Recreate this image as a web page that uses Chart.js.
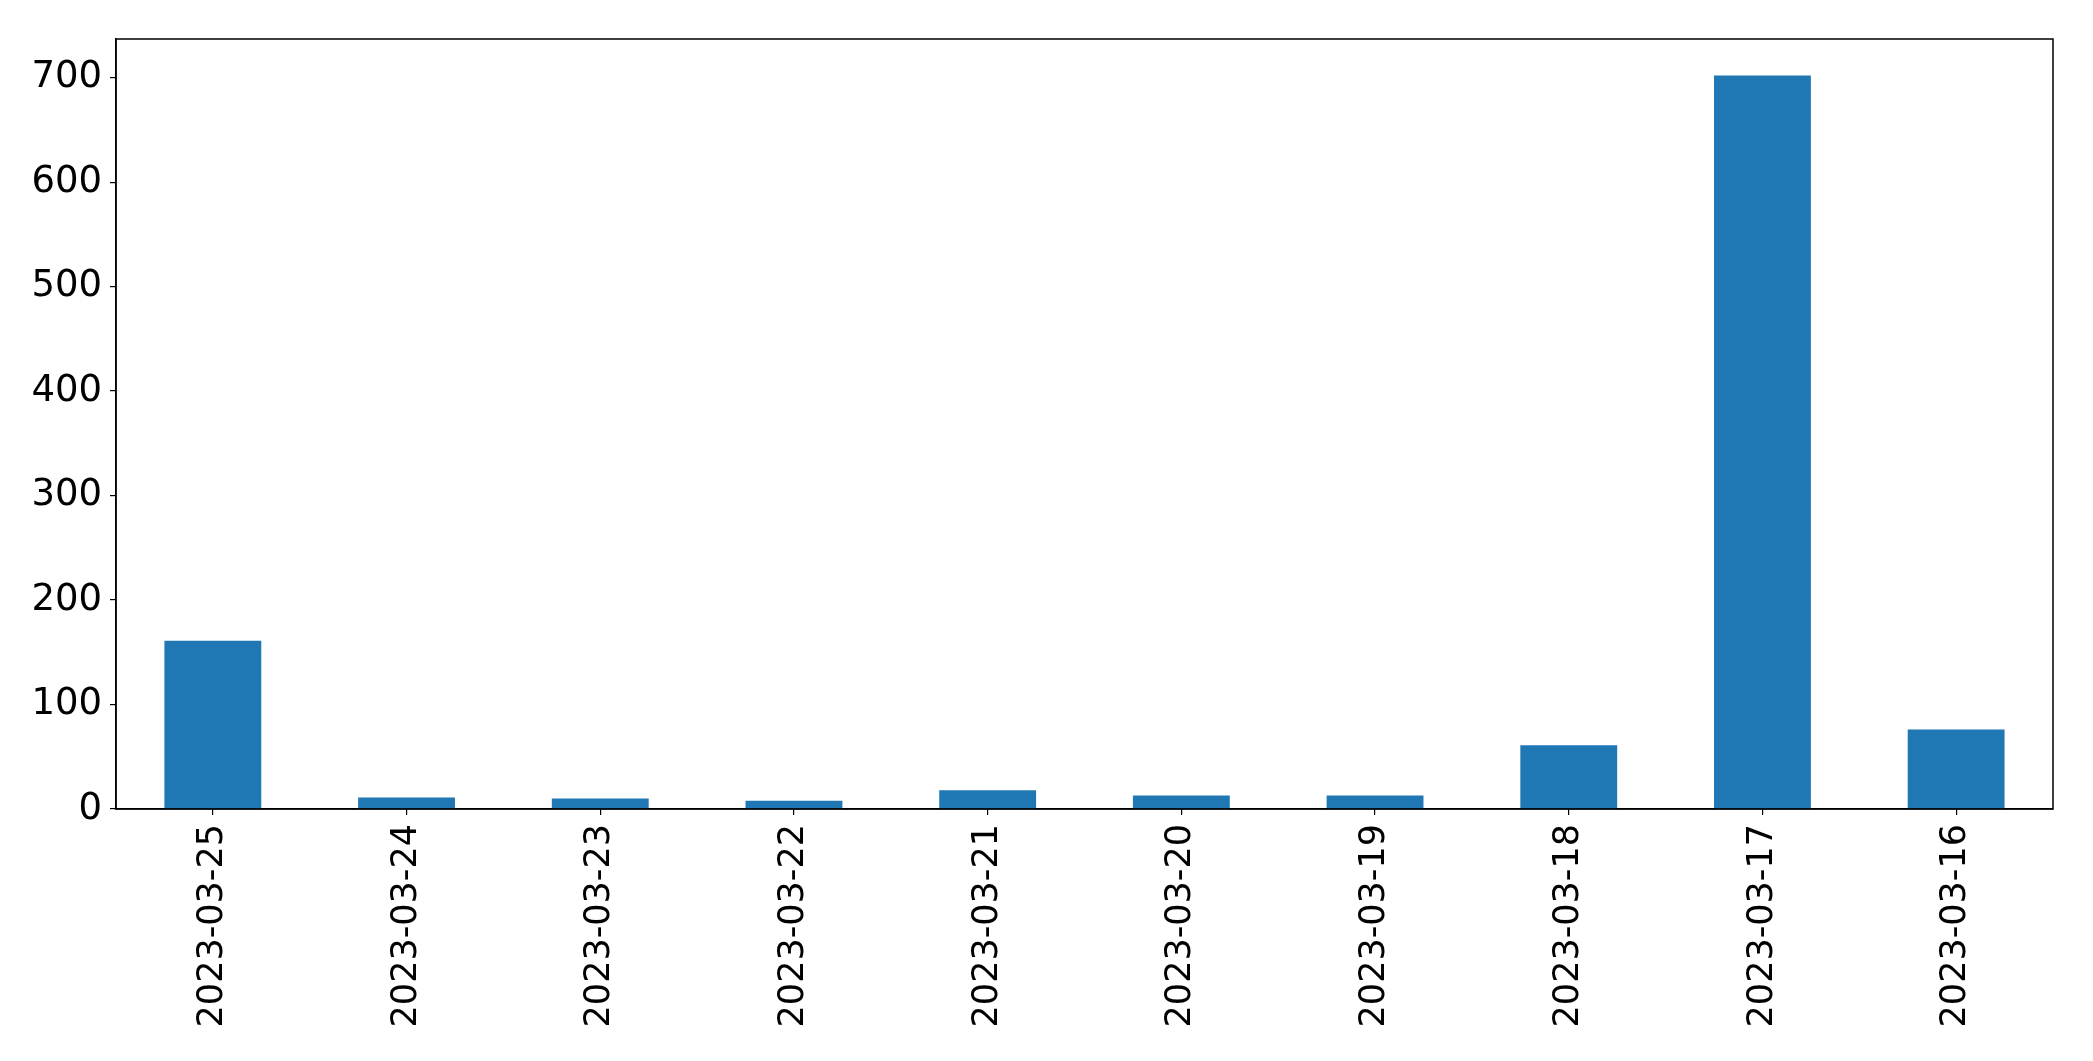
<!DOCTYPE html>
<html>
<head>
<meta charset="utf-8">
<script src="https://cdn.jsdelivr.net/npm/chart.js@4/dist/chart.umd.min.js"></script>
<style>
  html, body { margin: 0; padding: 0; background: #fff; }
  #wrap { width: 2093px; height: 1061px; }
</style>
</head>
<body>
<div id="wrap"><canvas id="myChart" width="2093" height="1061"></canvas></div>
<script>
// dates (newest first) and counts per day
const labels = ['2023-03-25', '2023-03-24', '2023-03-23', '2023-03-22', '2023-03-21',
                '2023-03-20', '2023-03-19', '2023-03-18', '2023-03-17', '2023-03-16'];
const counts = [161, 11, 10, 8, 18, 13, 13, 61, 702, 76];
const yTicks = [0, 100, 200, 300, 400, 500, 600, 700];

// top and right edges of the axes box
const frame = {
    id: 'frame',
    afterDraw(chart) {
        const a = chart.chartArea;
        const c = chart.ctx;
        c.save();
        c.strokeStyle = '#000';
        c.lineWidth = 1.5;
        c.strokeRect(a.left, a.top, a.right - a.left, a.bottom - a.top);
        c.restore();
    }
};

function createChart(labels, data) {
    const ctx = document.getElementById('myChart').getContext('2d');
    new Chart(ctx, {
        type: 'bar',
        data: {
            labels: labels,
            datasets: [{
                data: data,
                backgroundColor: '#1f77b4',
                borderWidth: 0,
                barPercentage: 0.5,
                categoryPercentage: 1.0
            }]
        },
        options: {
            responsive: false,
            animation: false,
            layout: { padding: { top: 39, right: 40, left: 0, bottom: 0 } },
            plugins: {
                legend: { display: false },
                tooltip: { enabled: false }
            },
            scales: {
                x: {
                    offset: true,
                    grid: { display: true, offset: false, drawOnChartArea: false, drawTicks: true, tickLength: 6, color: '#000', lineWidth: 1.2 },
                    border: { display: true, color: '#000', width: 1.5 },
                    ticks: {
                        color: '#000',
                        font: { family: 'DejaVu Sans', size: 35 },
                        minRotation: 90,
                        maxRotation: 90,
                        autoSkip: false,
                        padding: 9
                    },
                    afterFit(scale) { scale.height = 252; }
                },
                y: {
                    min: 0,
                    max: 737,
                    grid: { display: true, drawOnChartArea: false, drawTicks: true, tickLength: 6, color: '#000', lineWidth: 1.2 },
                    border: { display: true, color: '#000', width: 1.5 },
                    ticks: {
                        color: '#000',
                        font: { family: 'DejaVu Sans', size: 37 },
                        stepSize: 100,
                        includeBounds: false,
                        padding: 8
                    },
                    afterBuildTicks(scale) {
                        scale.ticks = yTicks.map(v => ({ value: v }));
                    },
                    afterFit(scale) { scale.width = 116; }
                }
            }
        },
        plugins: [frame]
    });
}

createChart(labels, counts);
</script>
</body>
</html>
